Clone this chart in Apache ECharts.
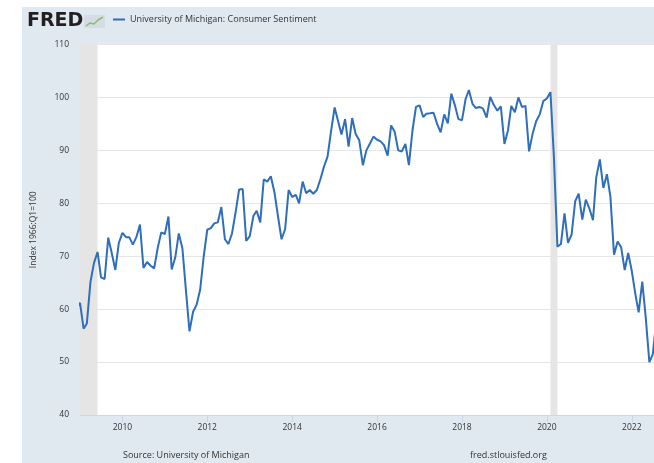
<!DOCTYPE html>
<html><head><meta charset="utf-8">
<script src="https://cdn.jsdelivr.net/npm/echarts@6/dist/echarts.min.js"></script>
<style>html,body{margin:0;padding:0;background:#fff}#c{width:654px;height:463px}</style>
</head><body><div id="c"></div>
<script>
const seriesName = 'University of Michigan: Consumer Sentiment';
const yAxisTitle = 'Index 1966:Q1=100';
const sourceText = 'Source: University of Michigan';
const siteText = 'fred.stlouisfed.org';

// monthly values, first value = Dec 2008
const firstYear = 2008, firstMonth = 12;
const y2008 = [60.1];
const y2009 = [61.2,56.3,57.3,65.1,68.7,70.8,66.0,65.7,73.5,70.6,67.4,72.5];
const y2010 = [74.4,73.6,73.6,72.2,73.6,76.0,67.8,68.9,68.2,67.7,71.6,74.5];
const y2011 = [74.2,77.5,67.5,69.8,74.3,71.5,63.7,55.8,59.5,60.8,63.7,69.9];
const y2012 = [75.0,75.3,76.2,76.4,79.3,73.2,72.3,74.3,78.3,82.6,82.7,72.9];
const y2013 = [73.8,77.6,78.6,76.4,84.5,84.1,85.1,82.1,77.5,73.2,75.1,82.5];
const y2014 = [81.2,81.6,80.0,84.1,81.9,82.5,81.8,82.5,84.6,86.9,88.8,93.6];
const y2015 = [98.1,95.4,93.0,95.9,90.7,96.1,93.1,91.9,87.2,90.0,91.3,92.6];
const y2016 = [92.0,91.7,91.0,89.0,94.7,93.5,90.0,89.8,91.2,87.2,93.8,98.2];
const y2017 = [98.5,96.3,96.9,97.0,97.1,95.0,93.4,96.8,95.1,100.7,98.5,95.9];
const y2018 = [95.7,99.7,101.4,98.8,98.0,98.2,97.9,96.2,100.1,98.6,97.5,98.3];
const y2019 = [91.2,93.8,98.4,97.2,100.0,98.2,98.4,89.8,93.2,95.5,96.8,99.3];
const y2020 = [99.8,101.0,89.1,71.8,72.3,78.1,72.5,74.1,80.4,81.8,76.9,80.7];
const y2021 = [79.0,76.8,84.9,88.3,82.9,85.5,81.2,70.3,72.8,71.7,67.4,70.6];
const y2022 = [67.2,62.8,59.4,65.2,58.4,50.0,51.5,58.2];

const sentiment = [].concat(y2008,y2009,y2010,y2011,y2012,y2013,y2014,y2015,y2016,y2017,y2018,y2019,y2020,y2021,y2022);

const tickYears = [2010,2012,2014,2016,2018,2020,2022];
const recessionStarts = [[2009,1],[2020,2]];
const recessionEnds   = [[2009,6],[2020,4]];
const axisStart = [2009,1,1];
const axisEnd = [2022,7,11];

const ts = (y,m,d) => Date.UTC(y, m-1, d || 1);
const lineData = sentiment.map((v,i)=>[ts(firstYear, firstMonth + i, 1), v]);
const tickVals = tickYears.map(y=>ts(y,1,1));

const chart = echarts.init(document.getElementById('c'), null, {renderer:'canvas'});
const font = "'Open Sans', sans-serif";
chart.setOption({
  backgroundColor: '#e1e9f0',
  animation: false,
  textStyle: {fontFamily: font},
  grid: {left:80, right:0, top:44.5, bottom:48, show:true, backgroundColor:'#ffffff', borderWidth:0, containLabel:false},
  legend: {
    left: 113, top: 15, padding: 0, icon: 'rect', itemWidth: 12, itemHeight: 2, itemGap: 5,
    textStyle: {fontSize: 9, color: '#333', fontFamily: font},
    data: [seriesName]
  },
  graphic: [
    {type:'rect', left:0, top:0, shape:{width:22, height:463}, style:{fill:'#ffffff'}},
    {type:'rect', left:0, top:0, shape:{width:654, height:7}, style:{fill:'#ffffff'}},
    {type:'text', left:27, top:12, style:{text:'FRED', font:"900 19px 'DejaVu Sans', sans-serif", fill:'#231f20'}},
    {type:'rect', left:84, top:15, shape:{width:21, height:13}, style:{fill:'#d5dde2'}},
    {type:'polyline', shape:{points:[[86,26],[90,23],[94,24],[98,20],[103,17]]}, style:{stroke:'#8dbb6f', lineWidth:1.5, fill:null}},
    {type:'text', left:123, top:451, style:{text:sourceText, font:"9px 'Open Sans', sans-serif", fill:'#333'}},
    {type:'text', left:470, top:451, style:{text:siteText, font:"9px 'Open Sans', sans-serif", fill:'#333'}}
  ],
  xAxis: {
    type: 'value', min: ts(...axisStart), max: ts(...axisEnd), scale: true,
    axisLine: {show:true, onZero:false, lineStyle:{color:'#ccd6eb', width:1}},
    axisTick: {show:true, length:7, lineStyle:{color:'#ccd6eb'}, customValues: tickVals},
    axisLabel: {customValues: tickVals, formatter: v => String(new Date(v).getUTCFullYear()), fontSize: 8.5, color:'#333', margin: 8, fontFamily: font},
    splitLine: {show:false}
  },
  yAxis: {
    type: 'value', min: 40, max: 110, interval: 10,
    name: yAxisTitle, nameLocation: 'middle', nameRotate: 90, nameGap: 42,
    nameTextStyle: {fontSize: 8.5, color:'#333', fontFamily: font},
    axisLine: {show:false}, axisTick: {show:false},
    axisLabel: {fontSize: 8.5, color:'#333', margin: 11, fontFamily: font},
    splitLine: {show:true, lineStyle:{color:'#e6e6e6', width:1}}
  },
  series: [{
    name: seriesName, type: 'line', data: lineData, showSymbol: false, symbol: 'none',
    clip: false,
    lineStyle: {color:'#2f6eba', width:2}, itemStyle: {color:'#2f6eba'},
    markArea: {
      silent: true,
      itemStyle: {color:'#e5e5e5'},
      data: recessionStarts.map((s,i)=>[{xAxis:ts(s[0],s[1],1)},{xAxis:ts(recessionEnds[i][0],recessionEnds[i][1],1)}])
    }
  }]
});
</script>
</body></html>
